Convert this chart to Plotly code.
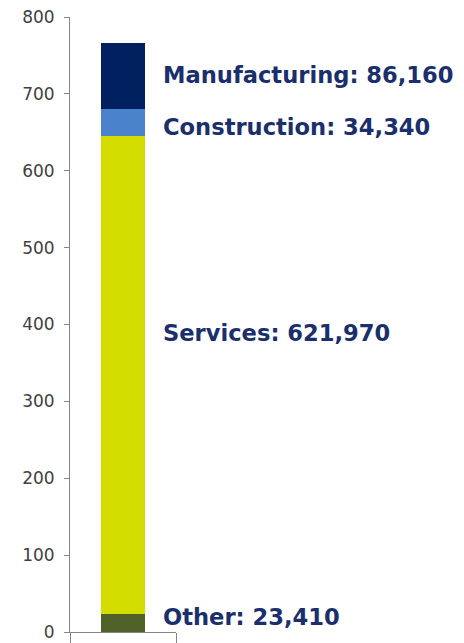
import plotly.graph_objects as go

# Data (thousands of jobs)
sectors = ["Other", "Services", "Construction", "Manufacturing"]
values = [23.41, 621.97, 34.34, 86.16]
label_values = ["23,410", "621,970", "34,340", "86,160"]
colors = ["#50612a", "#d4dd00", "#4a82cc", "#002060"]
label_y = [19, 389, 657, 724]  # label anchor positions (data units)
y_ticks = [0, 100, 200, 300, 400, 500, 600, 700, 800]

fig = go.Figure()
for s, v, c in zip(sectors, values, colors):
    fig.add_trace(go.Bar(x=[""], y=[v], name=s, marker=dict(color=c, line=dict(width=0)),
                         width=0.41, showlegend=False, hoverinfo="name+y"))

for s, lv, ly in zip(sectors, label_values, label_y):
    fig.add_annotation(x=0.86, xref="paper", y=ly, yref="y", text=f"<b>{s}: {lv}</b>",
                       showarrow=False, xanchor="left", yanchor="middle",
                       font=dict(family="DejaVu Sans", size=22.6, color="#1a2f6b"))

fig.update_layout(
    barmode="stack",
    width=464, height=643,
    margin=dict(l=70, r=288, t=17, b=11, autoexpand=False),
    plot_bgcolor="white", paper_bgcolor="white",
    xaxis=dict(range=[-0.5, 0.5], showline=True, linecolor="#868686", linewidth=1,
               ticks="outside", tickson="boundaries", ticklen=12, tickcolor="#868686",
               showticklabels=False, showgrid=False, zeroline=False, automargin=False),
    yaxis=dict(range=[0, 800], tickvals=y_ticks, showline=True, linecolor="#868686", linewidth=1,
               ticks="outside", ticklen=5, tickcolor="#868686", showgrid=False, zeroline=False,
               automargin=False, ticklabelstandoff=6,
               tickfont=dict(family="DejaVu Sans", size=17, color="#404040")),
)

fig.write_html("out.html", config={"displayModeBar": False},
               post_script="document.body.style.margin='0';")
